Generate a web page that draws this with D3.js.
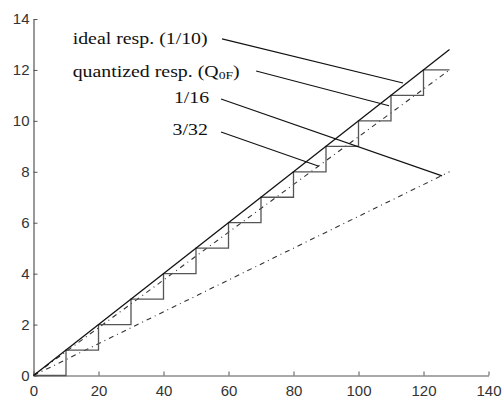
<!DOCTYPE html>
<html>
<head>
<meta charset="utf-8">
<script src="https://cdn.jsdelivr.net/npm/d3@7/dist/d3.min.js"></script>
<style>
  html, body { margin: 0; padding: 0; background: #fff; }
  svg { display: block; }
</style>
</head>
<body>
<svg id="chart" width="503" height="399"></svg>
<script>
// ---- data ----
const xTicks = [0, 20, 40, 60, 80, 100, 120, 140];
const yTicks = [0, 2, 4, 6, 8, 10, 12, 14];

// ideal response y = x/10
const idealX = [0, 128];
const idealY = [0, 12.8];
// quantized response (staircase)
const quantX = [0, 10, 20, 30, 40, 50, 60, 70, 80, 90, 100, 110, 120, 128];
const quantY = [0, 1, 2, 3, 4, 5, 6, 7, 8, 9, 10, 11, 12, 12];
// 3/32 line
const k332X = [0, 128];
const k332Y = [0, 12];
// 1/16 line
const k116X = [0, 128];
const k116Y = [0, 8];

// annotation labels: text, label anchor (data units), leader line start/end (data units)
const labelTexts = ["ideal resp. (1/10)", "quantized resp. (Q", "1/16", "3/32"];
const labelX = [12.06, 12.06, 43.2, 42.8];
const labelY = [13.02, 11.72, 10.70, 9.44];
const leaderX0 = [58.0, 68.5, 57.7, 57.7];
const leaderY0 = [13.22, 11.96, 10.86, 9.56];
const leaderX1 = [113.7, 109.4, 125.7, 87.8];
const leaderY1 = [11.49, 10.59, 7.84, 8.22];

// ---- chart ----
const svg = d3.select("#chart");
const x = d3.scaleLinear().domain([0, 140]).range([33.5, 488.5]);
const y = d3.scaleLinear().domain([0, 14]).range([375.5, 19]);

const axisColor = "#555";
const tickFont = "'Liberation Sans', Arial, sans-serif";

const gx = svg.append("g").attr("transform", `translate(0,${y(0)})`)
  .call(d3.axisBottom(x).tickValues(xTicks).tickSizeInner(-4).tickSizeOuter(0).tickPadding(10));
const gy = svg.append("g").attr("transform", `translate(${x(0)},0)`)
  .call(d3.axisLeft(y).tickValues(yTicks).tickSizeInner(-4).tickSizeOuter(0).tickPadding(4));
[gx, gy].forEach(g => {
  g.select(".domain").attr("stroke", axisColor).attr("stroke-width", 1.2);
  g.selectAll(".tick line").attr("stroke", axisColor);
  g.selectAll(".tick text").attr("fill", "#333")
    .style("font-family", tickFont).style("font-size", "15px");
});

const line = d3.line().x(d => x(d[0])).y(d => y(d[1]));
const zip = (a, b) => a.map((v, i) => [v, b[i]]);

// dash-dot lines
svg.append("path").datum(zip(k116X, k116Y)).attr("d", line)
  .attr("fill", "none").attr("stroke", "#333").attr("stroke-width", 1.1)
  .attr("stroke-dasharray", "5,4,1,4");
svg.append("path").datum(zip(k332X, k332Y)).attr("d", line)
  .attr("fill", "none").attr("stroke", "#333").attr("stroke-width", 1.1)
  .attr("stroke-dasharray", "5,4,1,4");

// quantized staircase
svg.append("path").datum(zip(quantX, quantY))
  .attr("d", d3.line().curve(d3.curveStepAfter).x(d => x(d[0])).y(d => y(d[1])))
  .attr("fill", "none").attr("stroke", "#555").attr("stroke-width", 1.3);

// ideal
svg.append("path").datum(zip(idealX, idealY)).attr("d", line)
  .attr("fill", "none").attr("stroke", "#111").attr("stroke-width", 1.3);

// leader lines
labelTexts.forEach((t, i) => {
  svg.append("line")
    .attr("x1", x(leaderX0[i])).attr("y1", y(leaderY0[i]))
    .attr("x2", x(leaderX1[i])).attr("y2", y(leaderY1[i]))
    .attr("stroke", "#111").attr("stroke-width", 1.1);
});

// labels
const serif = "'Liberation Serif', 'Times New Roman', serif";
labelTexts.forEach((t, i) => {
  const g = svg.append("g")
    .attr("transform", `translate(${x(labelX[i])},${y(labelY[i])}) scale(1.24,1)`);
  const txt = g.append("text").attr("x", 0).attr("y", 0)
    .style("font-family", serif).style("font-size", "16px").attr("fill", "#111");
  txt.append("tspan").text(t);
  if (i === 1) {
    txt.append("tspan").attr("dy", 2).style("font-size", "11px").text("0F");
    txt.append("tspan").attr("dy", -2).text(")");
  }
});
</script>
</body>
</html>
